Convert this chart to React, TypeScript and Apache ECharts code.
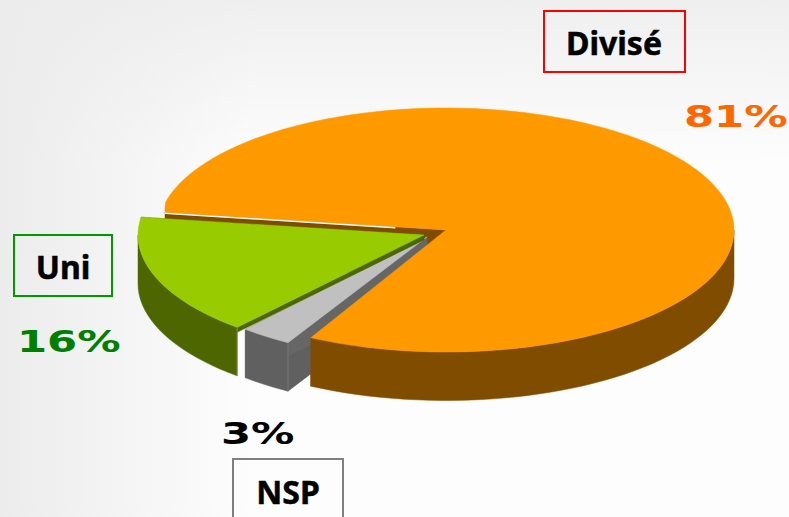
import React, { useEffect, useRef } from "react";
import * as echarts from "echarts";

const categories = ["Divisé", "NSP", "Uni"];
const values = [81, 3, 16];

const W = 789;
const H = 517;
const START = 188.4;
const DEPTH = 48.5;

const looks = [
  { cx: 446, cy: 230, rx: 288, ry: 122, top: "#ff9900", wall: "#804d00", inner: DEPTH, edge: null, trimEnd: 2, minX: 165 },
  { cx: 427, cy: 237, rx: 278, ry: 122, top: "#c0c0c0", wall: "#606060", inner: DEPTH, edge: "#777777", trimEnd: 0, minX: 0 },
  { cx: 424, cy: 235, rx: 286, ry: 122, top: "#99cc00", wall: "#4d6600", inner: 5, edge: "#7f9640", trimEnd: 0, minX: 0 },
];
const topLayer = [12, 6, 8];

function pt(l: any, deg: number, dy = 0) {
  const a = (deg * Math.PI) / 180;
  return [Math.max(l.minX, l.cx + l.rx * Math.cos(a)), l.cy + l.ry * Math.sin(a) + dy];
}
function arc(l: any, a0: number, a1: number, dy = 0) {
  const pts: number[][] = [];
  const n = Math.max(2, Math.ceil((a1 - a0) / 2.5));
  for (let i = 0; i <= n; i++) pts.push(pt(l, a0 + ((a1 - a0) * i) / n, dy));
  return pts;
}

function renderSlice(params: any, api: any) {
  const i = params.dataIndex;
  const total = values.reduce((s, v) => s + v, 0);
  let a0 = START;
  for (let k = 0; k < i; k++) a0 += (values[k] / total) * 360;
  const l = looks[i];
  const a1 = a0 + (api.value(0) / total) * 360 - l.trimEnd;
  const z = topLayer[i];
  const apex = [l.cx, l.cy];
  const children: any[] = [];
  const poly = (points: number[][], fill: string, z2: number) =>
    children.push({ type: "polygon", shape: { points }, style: { fill, stroke: fill, lineWidth: 0.5 }, z2 });

  // cut faces
  const pa = pt(l, a0);
  const pb = pt(l, a1);
  const faceLayer = i === 0 ? 1 : z - 1;
  poly([apex, pa, [pa[0], pa[1] + l.inner], [apex[0], apex[1] + l.inner]], l.wall, faceLayer);
  poly([apex, pb, [pb[0], pb[1] + l.inner], [apex[0], apex[1] + l.inner]], i === 1 ? "#666666" : l.wall, faceLayer);

  // rim: front half of the ellipse only
  for (const [s, e] of [[0, 180], [360, 540]]) {
    const from = Math.max(a0, s);
    const to = Math.min(a1, e);
    if (to > from) {
      poly([...arc(l, from, to), ...arc(l, from, to, DEPTH).reverse()], l.wall, z - 1 + (i === 0 ? 1 : 0));
    }
  }
  // top face
  poly([apex, ...arc(l, a0, a1)], l.top, z + 1);

  if (l.edge) {
    children.push({
      type: "line",
      shape: { x1: pa[0], y1: pa[1], x2: pa[0], y2: pa[1] + DEPTH },
      style: { stroke: l.edge, lineWidth: 1 },
      z2: z,
    });
  }
  if (i === 0) {
    children.push({
      type: "line",
      shape: { x1: pa[0], y1: pa[1] + 1, x2: pa[0] + (l.cx - pa[0]) * 0.82, y2: pa[1] + 1 + (l.cy - pa[1]) * 0.82 },
      style: { stroke: "#ffffff", lineWidth: 1.4 },
      z2: 14,
    });
  }
  return { type: "group", children };
}

function box(x: number, y: number, w: number, h: number, stroke: string, label: string, tx: number, ty: number) {
  return [
    { type: "rect", shape: { x, y, width: w, height: h }, style: { fill: "none", stroke, lineWidth: 2 }, z: 5 },
    {
      type: "text",
      x: tx,
      y: ty,
      style: {
        text: label,
        fill: "#000000",
        stroke: "#000000",
        lineWidth: 0.5,
        font: 'bold 32px "Noto Sans", sans-serif',
        textAlign: "center",
        textVerticalAlign: "middle",
      },
      z: 6,
    },
  ];
}
function pct(v: number, x: number, y: number, fill: string) {
  return {
    type: "text",
    x,
    y,
    scaleX: 1.42,
    style: {
      text: `${v}%`,
      fill,
      font: 'bold 30.5px "DejaVu Sans", sans-serif',
      textAlign: "left",
      textVerticalAlign: "middle",
    },
    z: 6,
  };
}

export default function App() {
  const ref = useRef<HTMLDivElement>(null);
  useEffect(() => {
    const chart = echarts.init(ref.current!, null, { renderer: "svg", width: W, height: H });
    chart.setOption({
      animation: false,
      backgroundColor: "transparent",
      tooltip: { show: false },
      graphic: [
        ...box(544, 11, 141, 61, "#ff0000", categories[0], 614, 42),
        pct(values[0], 684, 116, "#ff6600"),
        ...box(14, 235, 98, 61, "#009900", categories[2], 63, 266),
        pct(values[2], 17, 341, "#008000"),
        pct(values[1], 221, 433, "#000000"),
        ...box(233, 459, 110, 70, "#808080", categories[1], 288, 491),
      ],
      series: [
        {
          type: "custom",
          coordinateSystem: "none",
          silent: true,
          renderItem: renderSlice,
          data: values.map((v, i) => ({ name: categories[i], value: [v] })),
          encode: { value: 0 },
        },
      ],
    });
    return () => chart.dispose();
  }, []);
  return (
    <div
      style={{
        position: "absolute",
        left: 0,
        top: 0,
        width: W,
        height: H,
        overflow: "hidden",
        background:
          "linear-gradient(to right, #ececec 0, rgba(255,255,255,0) 32%), linear-gradient(to bottom, #efefef 0, rgba(255,255,255,0) 32%), #fdfdfd",
      }}
    >
      <div ref={ref} style={{ width: W, height: H }} />
    </div>
  );
}
